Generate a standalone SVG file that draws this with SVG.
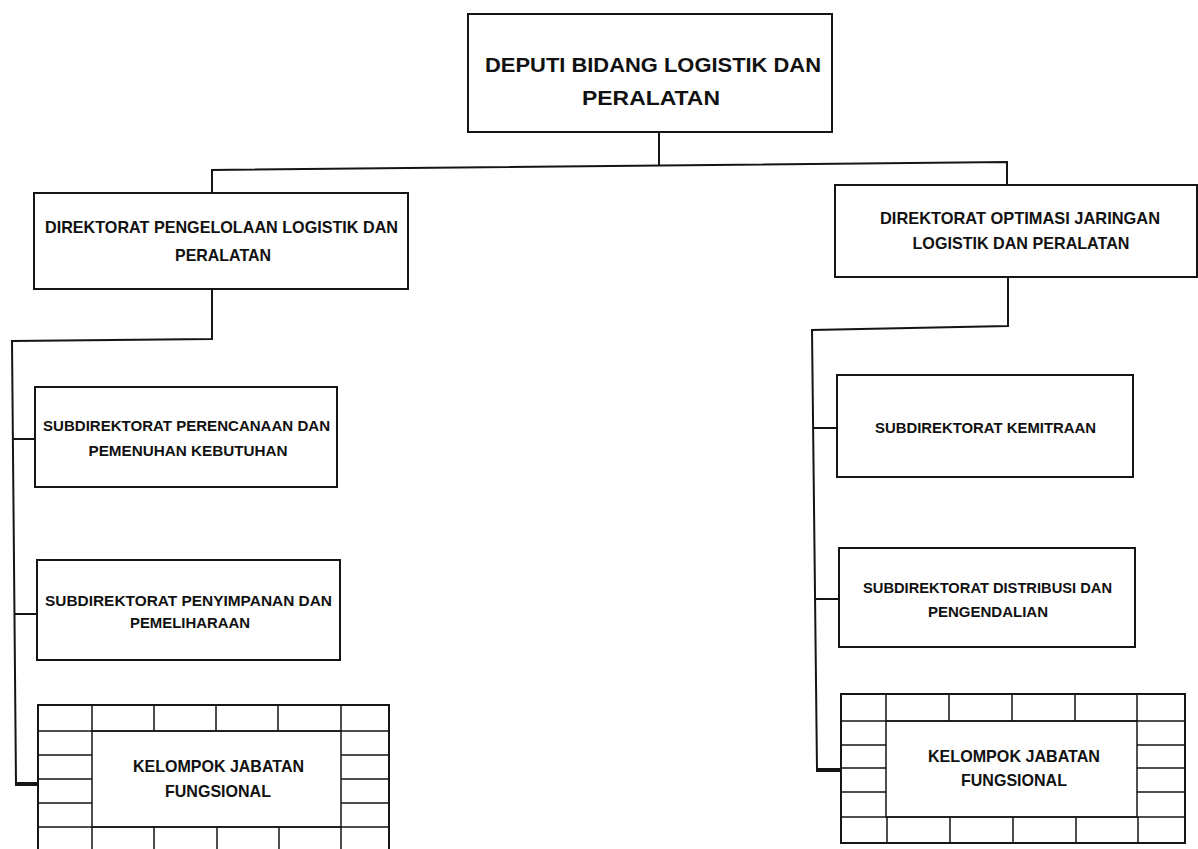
<svg xmlns="http://www.w3.org/2000/svg" width="1198" height="849" viewBox="0 0 1198 849">
<style>
.box{fill:#fff;stroke:#151515;stroke-width:2}
.grid{fill:none;stroke:#151515;stroke-width:1.5}
.conn{fill:none;stroke:#151515;stroke-width:2}
.thick{fill:none;stroke:#151515;stroke-width:4}
text{font-family:"Liberation Sans",Arial,sans-serif;font-weight:bold;fill:#111;text-anchor:middle}
.t21{font-size:21px}
.t16{font-size:17px}
.t15{font-size:15px}
</style>
<rect width="1198" height="849" fill="#fff"/>
<g id="connectors">
  <path class="conn" d="M659,132 V166"/>
  <path class="conn" d="M212,193 V170 L1007,162 V186"/>
  <path class="conn" d="M212,289 V339 L12,341 L16,784"/>
  <path class="thick" d="M15,784 H38"/>
  <path class="conn" d="M13,439 H35"/>
  <path class="conn" d="M14,614 H37"/>
  <path class="conn" d="M1008,277 V326 L812,330 L817,770"/>
  <path class="thick" d="M816,770 H841"/>
  <path class="conn" d="M813,428 H837"/>
  <path class="conn" d="M815,599 H839"/>
</g>
<g id="deputi">
  <rect class="box" x="468" y="14" width="364" height="118"/>
  <text class="t21" x="653" y="72" textLength="336" lengthAdjust="spacingAndGlyphs">DEPUTI BIDANG LOGISTIK DAN</text>
  <text class="t21" x="651" y="105" textLength="138" lengthAdjust="spacingAndGlyphs">PERALATAN</text>
</g>
<g id="dir-pengelolaan">
  <rect class="box" x="34" y="193" width="374" height="96"/>
  <text class="t16" x="221.5" y="233" textLength="353" lengthAdjust="spacingAndGlyphs">DIREKTORAT PENGELOLAAN LOGISTIK DAN</text>
  <text class="t16" x="223" y="261" textLength="96" lengthAdjust="spacingAndGlyphs">PERALATAN</text>
</g>
<g id="dir-optimasi">
  <rect class="box" x="835" y="185" width="362" height="92"/>
  <text class="t16" x="1020" y="224" textLength="280" lengthAdjust="spacingAndGlyphs">DIREKTORAT OPTIMASI JARINGAN</text>
  <text class="t16" x="1021" y="249" textLength="217" lengthAdjust="spacingAndGlyphs">LOGISTIK DAN PERALATAN</text>
</g>
<g id="sub-perencanaan">
  <rect class="box" x="35" y="387" width="302" height="100"/>
  <text class="t15" x="186.5" y="430.5" textLength="287" lengthAdjust="spacingAndGlyphs">SUBDIREKTORAT PERENCANAAN DAN</text>
  <text class="t15" x="188" y="455.5" textLength="199" lengthAdjust="spacingAndGlyphs">PEMENUHAN KEBUTUHAN</text>
</g>
<g id="sub-penyimpanan">
  <rect class="box" x="37" y="560" width="303" height="100"/>
  <text class="t15" x="188.5" y="605.5" textLength="287" lengthAdjust="spacingAndGlyphs">SUBDIREKTORAT PENYIMPANAN DAN</text>
  <text class="t15" x="190" y="627.5" textLength="120" lengthAdjust="spacingAndGlyphs">PEMELIHARAAN</text>
</g>
<g id="sub-kemitraan">
  <rect class="box" x="837" y="375" width="296" height="102"/>
  <text class="t15" x="985.5" y="432.5" textLength="221" lengthAdjust="spacingAndGlyphs">SUBDIREKTORAT KEMITRAAN</text>
</g>
<g id="sub-distribusi">
  <rect class="box" x="839" y="548" width="296" height="99"/>
  <text class="t15" x="987.5" y="592.5" textLength="249" lengthAdjust="spacingAndGlyphs">SUBDIREKTORAT DISTRIBUSI DAN</text>
  <text class="t15" x="988" y="616.5" textLength="120" lengthAdjust="spacingAndGlyphs">PENGENDALIAN</text>
</g>
<g id="kelompok-left">
  <rect class="box" x="38" y="705" width="351" height="160"/>
  <rect class="grid" x="92" y="731" width="249" height="96"/>
  <path class="grid" d="M38,731 H389 M38,827 H389 M154,705 V731 M216,705 V731 M278,705 V731 M92,705 V731 M341,705 V731 M38,755 H92 M38,779 H92 M38,803 H92 M341,755 H389 M341,779 H389 M341,803 H389 M92,827 V860 M154,827 V860 M217,827 V860 M279,827 V860 M341,827 V860"/>
  <text class="t16" x="218.5" y="772" textLength="171" lengthAdjust="spacingAndGlyphs">KELOMPOK JABATAN</text>
  <text class="t16" x="218" y="797" textLength="106" lengthAdjust="spacingAndGlyphs">FUNGSIONAL</text>
</g>
<g id="kelompok-right">
  <rect class="box" x="841" y="694" width="344" height="149"/>
  <rect class="grid" x="886" y="721" width="251" height="96"/>
  <path class="grid" d="M841,721 H1185 M841,817 H1185 M886,694 V721 M949,694 V721 M1012,694 V721 M1075,694 V721 M1137,694 V721 M841,745 H886 M841,768 H886 M841,792 H886 M1137,745 H1185 M1137,768 H1185 M1137,792 H1185 M887,817 V843 M950,817 V843 M1013,817 V843 M1076,817 V843 M1138,817 V843"/>
  <text class="t16" x="1014" y="762" textLength="172" lengthAdjust="spacingAndGlyphs">KELOMPOK JABATAN</text>
  <text class="t16" x="1014" y="786" textLength="106" lengthAdjust="spacingAndGlyphs">FUNGSIONAL</text>
</g>
</svg>
